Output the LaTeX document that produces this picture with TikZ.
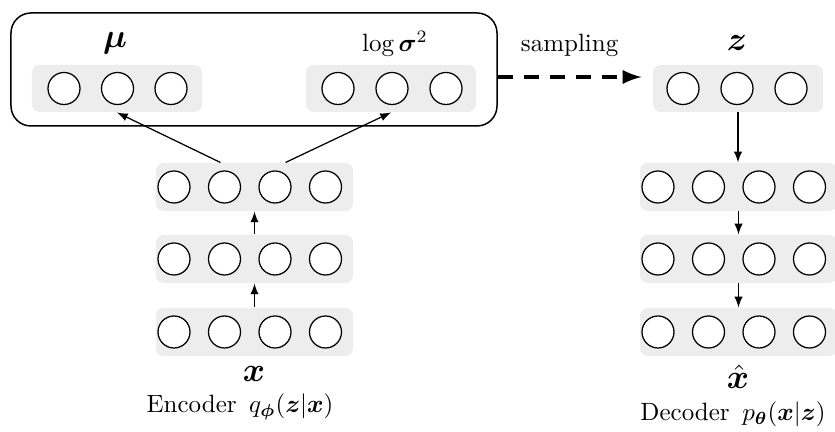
\RequirePackage{fix-cm}
\documentclass[tikz,border=0pt]{standalone}
\usepackage{amsmath}
\usepackage{amssymb}
\usepackage{bm}
\usepackage{tikz}
\usetikzlibrary{shapes.geometric, arrows}
\tikzstyle{layer} = [rectangle, rounded corners=3pt, minimum width=78.8pt, minimum height=19.2pt, fill=gray!14]
\tikzstyle{latent} = [layer, minimum width=68pt, minimum height=18.8pt]
\tikzstyle{unit} = [circle, minimum size=12.8pt, inner sep=0pt, draw=black, line width=0.5pt, fill=white]
\tikzstyle{encbox} = [rectangle, rounded corners=8pt, minimum width=194.4pt, minimum height=45.2pt, draw=black, line width=0.6pt]
\tikzstyle{varname} = [anchor=base, font=\fontsize{13.5}{16}\selectfont]
\tikzstyle{arrow} = [->,>=latex, line width=0.5pt]
\tikzstyle{sample} = [->,>=latex, line width=1.6pt, dash pattern=on 6pt off 4.4pt]

\begin{document}
\begin{tikzpicture}[x=0.4pt, y=-0.4pt, node distance=20.2pt]
\useasboundingbox (0,0) rectangle (835,432);
% encoder
\node (encOut) [encbox] at (254,69.5) {};
\node (muLayer) [latent] at (117,88.5) {};
\node (muUnit1) [unit] at (64,88.5) {};
\node (muUnit2) [unit, right of=muUnit1, xshift=1.2pt] {};
\node (muUnit3) [unit, right of=muUnit2, xshift=1.2pt] {};
\node (varLayer) [latent] at (391,88.5) {};
\node (varUnit1) [unit] at (338,88.5) {};
\node (varUnit2) [unit, right of=varUnit1, xshift=1.4pt] {};
\node (varUnit3) [unit, right of=varUnit2, xshift=1.4pt] {};
\node (muLabel) [varname] at (115,48) {$\boldsymbol{\mu}$};
\node (varLabel) [anchor=base] at (395,52) {$\log\boldsymbol{\sigma}^2$};
\node (topEnc) [layer] at (254.5,187) {};
\node (topUnit1) [unit] at (174,187) {};
\node (topUnit2) [unit, right of=topUnit1] {};
\node (topUnit3) [unit, right of=topUnit2] {};
\node (topUnit4) [unit, right of=topUnit3] {};
\node (hidEnc) [layer] at (254.5,259) {};
\node (hidUnit1) [unit] at (174,259) {};
\node (hidUnit2) [unit, right of=hidUnit1] {};
\node (hidUnit3) [unit, right of=hidUnit2] {};
\node (hidUnit4) [unit, right of=hidUnit3] {};
\node (xLayer) [layer] at (254.5,332) {};
\node (xUnit1) [unit] at (174,332) {};
\node (xUnit2) [unit, right of=xUnit1] {};
\node (xUnit3) [unit, right of=xUnit2] {};
\node (xUnit4) [unit, right of=xUnit3] {};
\node (xLabel) [varname] at (254,382) {$\boldsymbol{x}$};
\node (encLabel) [anchor=base] at (240,413) {Encoder\hspace{5pt}$q_{\bm{\phi}}(\bm{z}|\bm{x})$};
% decoder
\node (zLayer) [latent] at (738,88.5) {};
\node (zUnit1) [unit] at (683,88.5) {};
\node (zUnit2) [unit, right of=zUnit1, xshift=1.4pt] {};
\node (zUnit3) [unit, right of=zUnit2, xshift=1.4pt] {};
\node (zLabel) [varname] at (737,51) {$\boldsymbol{z}$};
\node (topDec) [layer] at (738.5,187) {};
\node (decUnit1) [unit] at (658,187) {};
\node (decUnit2) [unit, right of=decUnit1] {};
\node (decUnit3) [unit, right of=decUnit2] {};
\node (decUnit4) [unit, right of=decUnit3] {};
\node (hidDec) [layer] at (738.5,259) {};
\node (hdecUnit1) [unit] at (658,259) {};
\node (hdecUnit2) [unit, right of=hdecUnit1] {};
\node (hdecUnit3) [unit, right of=hdecUnit2] {};
\node (hdecUnit4) [unit, right of=hdecUnit3] {};
\node (xhatLayer) [layer] at (738.5,332) {};
\node (xhatUnit1) [unit] at (658,332) {};
\node (xhatUnit2) [unit, right of=xhatUnit1] {};
\node (xhatUnit3) [unit, right of=xhatUnit2] {};
\node (xhatUnit4) [unit, right of=xhatUnit3] {};
\node (xhatLabel) [varname] at (738,389) {$\hat{\boldsymbol{x}}$};
\node (decLabel) [anchor=base] at (733,421) {Decoder\hspace{5pt}$p_{\bm{\theta}}(\bm{x}|\bm{z})$};

\draw [arrow] (xLayer) -- (hidEnc);
\draw [arrow] (hidEnc) -- (topEnc);
\draw [arrow] ([xshift=-13.6pt]topEnc.north) -- (muLayer.south);
\draw [arrow] ([xshift=12.4pt]topEnc.north) -- (varLayer.south);
\draw [sample] ([yshift=-3pt]encOut.east) -- node[anchor=south, yshift=4pt] {sampling} ([yshift=-3pt, xshift=-4.4pt]encOut.east -| zLayer.west);
\draw [arrow] (zLayer.south) -- (zLayer.south |- topDec.north);
\draw [arrow] (topDec) -- (hidDec);
\draw [arrow] (hidDec) -- (xhatLayer);
\end{tikzpicture}
\end{document}
